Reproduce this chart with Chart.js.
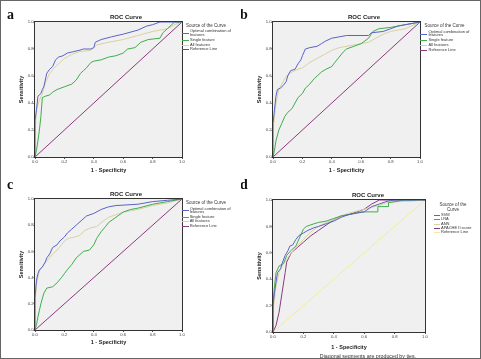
<!DOCTYPE html>
<html>
<head>
<meta charset="utf-8">
<script src="https://cdn.jsdelivr.net/npm/chart.js@4"></script>
<style>
  html, body { margin: 0; padding: 0; background: #fff; }
  #wrap { position: relative; width: 481px; height: 359px; box-sizing: border-box; border: 1px solid #666; overflow: hidden; }
  canvas { position: absolute; }
</style>
</head>
<body>
<div id="wrap">
  <canvas id="chartA" width="240" height="175" style="left:0;top:0"></canvas>
  <canvas id="chartB" width="241" height="175" style="left:240px;top:0"></canvas>
  <canvas id="chartC" width="240" height="184" style="left:0;top:175px"></canvas>
  <canvas id="chartD" width="241" height="184" style="left:240px;top:175px"></canvas>
</div>
<script>
// axis ticks
const tickValues = [0, 0.2, 0.4, 0.6, 0.8, 1.0];

// legend labels
const featureLabels = ["Optimal combination of features", "Single feature", "All features", "Reference Line"];
const modelLabels = ["SVM", "LRA", "ANN", "APACHE II score", "Reference Line"];

// reference diagonal
const refFpr = [0, 1];
const refTpr = [0, 1];

// panel a
const aOptimalFpr = [0, 0, 0.01, 0.02, 0.04, 0.05, 0.06, 0.07, 0.08, 0.1, 0.12, 0.14, 0.16, 0.19, 0.22, 0.26, 0.3, 0.33, 0.38, 0.4, 0.41, 0.45, 0.52, 0.6, 0.7, 0.76, 0.8, 0.85, 1];
const aOptimalTpr = [0, 0.27, 0.35, 0.45, 0.47, 0.5, 0.52, 0.57, 0.62, 0.65, 0.67, 0.72, 0.74, 0.75, 0.77, 0.78, 0.79, 0.8, 0.8, 0.81, 0.85, 0.87, 0.89, 0.91, 0.94, 0.97, 0.98, 1, 1];
const aSingleFpr = [0, 0.01, 0.02, 0.03, 0.04, 0.045, 0.05, 0.07, 0.1, 0.12, 0.15, 0.2, 0.25, 0.28, 0.31, 0.33, 0.35, 0.38, 0.4, 0.45, 0.5, 0.55, 0.6, 0.63, 0.68, 0.72, 0.77, 0.85, 0.87, 0.9, 0.93, 0.95, 1];
const aSingleTpr = [0, 0.05, 0.12, 0.2, 0.3, 0.37, 0.44, 0.45, 0.46, 0.48, 0.5, 0.52, 0.54, 0.57, 0.62, 0.64, 0.66, 0.7, 0.71, 0.72, 0.74, 0.75, 0.77, 0.8, 0.81, 0.85, 0.87, 0.88, 0.92, 0.95, 0.98, 1, 1];
const aAllFpr = [0, 0, 0.01, 0.03, 0.05, 0.07, 0.1, 0.13, 0.17, 0.2, 0.25, 0.3, 0.38, 0.42, 0.5, 0.6, 0.7, 0.8, 0.9, 0.95, 1];
const aAllTpr = [0, 0.2, 0.35, 0.42, 0.47, 0.55, 0.62, 0.66, 0.7, 0.73, 0.76, 0.78, 0.79, 0.83, 0.85, 0.87, 0.9, 0.93, 0.95, 0.98, 1];

// panel b
const bOptimalFpr = [0, 0, 0.01, 0.02, 0.03, 0.05, 0.07, 0.09, 0.1, 0.12, 0.15, 0.17, 0.19, 0.2, 0.22, 0.25, 0.3, 0.33, 0.36, 0.4, 0.45, 0.5, 0.65, 0.67, 0.75, 0.8, 0.85, 0.95, 1];
const bOptimalTpr = [0, 0.25, 0.35, 0.45, 0.5, 0.51, 0.53, 0.56, 0.6, 0.64, 0.65, 0.69, 0.72, 0.75, 0.8, 0.81, 0.82, 0.84, 0.86, 0.88, 0.89, 0.9, 0.9, 0.92, 0.93, 0.95, 0.97, 0.99, 1];
const bSingleFpr = [0, 0.01, 0.02, 0.04, 0.06, 0.08, 0.1, 0.13, 0.15, 0.17, 0.2, 0.22, 0.25, 0.28, 0.3, 0.33, 0.36, 0.4, 0.42, 0.45, 0.48, 0.5, 0.55, 0.6, 0.65, 0.68, 0.72, 0.8, 0.9, 0.95, 1];
const bSingleTpr = [0, 0.05, 0.12, 0.2, 0.25, 0.3, 0.33, 0.36, 0.4, 0.44, 0.47, 0.51, 0.54, 0.58, 0.6, 0.63, 0.65, 0.67, 0.7, 0.74, 0.78, 0.8, 0.82, 0.84, 0.88, 0.93, 0.95, 0.96, 0.98, 0.99, 1];
const bAllFpr = [0, 0, 0.02, 0.04, 0.06, 0.08, 0.1, 0.13, 0.17, 0.2, 0.25, 0.3, 0.35, 0.4, 0.45, 0.55, 0.65, 0.7, 0.75, 0.8, 0.9, 1];
const bAllTpr = [0, 0.2, 0.4, 0.5, 0.54, 0.58, 0.61, 0.63, 0.65, 0.66, 0.7, 0.73, 0.76, 0.79, 0.81, 0.83, 0.85, 0.88, 0.91, 0.93, 0.95, 1];

// panel c
const cOptimalFpr = [0, 0, 0.01, 0.02, 0.03, 0.05, 0.07, 0.08, 0.1, 0.12, 0.15, 0.17, 0.2, 0.22, 0.25, 0.28, 0.32, 0.35, 0.4, 0.45, 0.5, 0.55, 0.7, 0.8, 0.9, 1];
const cOptimalTpr = [0, 0.25, 0.38, 0.43, 0.46, 0.48, 0.52, 0.55, 0.58, 0.63, 0.65, 0.68, 0.71, 0.74, 0.77, 0.8, 0.84, 0.87, 0.89, 0.92, 0.94, 0.95, 0.96, 0.98, 0.99, 1];
const cSingleFpr = [0, 0.01, 0.02, 0.03, 0.04, 0.06, 0.08, 0.12, 0.15, 0.18, 0.2, 0.22, 0.25, 0.28, 0.3, 0.33, 0.37, 0.4, 0.42, 0.45, 0.48, 0.5, 0.55, 0.6, 0.65, 0.7, 0.8, 0.9, 1];
const cSingleTpr = [0, 0.04, 0.1, 0.15, 0.2, 0.28, 0.32, 0.33, 0.36, 0.4, 0.43, 0.46, 0.5, 0.55, 0.57, 0.6, 0.61, 0.65, 0.7, 0.75, 0.79, 0.82, 0.86, 0.9, 0.92, 0.93, 0.96, 0.98, 1];
const cAllFpr = [0, 0, 0.01, 0.03, 0.06, 0.09, 0.12, 0.15, 0.18, 0.2, 0.23, 0.27, 0.3, 0.34, 0.38, 0.42, 0.45, 0.5, 0.55, 0.6, 0.7, 0.8, 0.9, 1];
const cAllTpr = [0, 0.2, 0.35, 0.45, 0.5, 0.54, 0.58, 0.61, 0.65, 0.68, 0.7, 0.71, 0.72, 0.76, 0.78, 0.79, 0.82, 0.86, 0.88, 0.9, 0.92, 0.95, 0.97, 1];

// panel d
const dSvmFpr = [0, 0, 0.01, 0.02, 0.03, 0.05, 0.06, 0.08, 0.1, 0.11, 0.13, 0.15, 0.17, 0.2, 0.23, 0.27, 0.3, 0.35, 0.4, 0.45, 0.5, 0.55, 0.6, 0.65, 0.7, 0.75, 0.8, 1];
const dSvmTpr = [0, 0.2, 0.3, 0.38, 0.45, 0.48, 0.52, 0.58, 0.62, 0.65, 0.66, 0.7, 0.73, 0.75, 0.77, 0.79, 0.8, 0.82, 0.84, 0.87, 0.89, 0.9, 0.91, 0.95, 0.97, 0.99, 1, 1];
const dLraFpr = [0, 0, 0.01, 0.02, 0.04, 0.07, 0.09, 0.12, 0.15, 0.2, 0.22, 0.27, 0.3, 0.35, 0.4, 0.45, 0.5, 0.58, 0.69, 0.69, 0.76, 0.76, 0.87, 1];
const dLraTpr = [0, 0.22, 0.35, 0.45, 0.5, 0.52, 0.58, 0.62, 0.65, 0.78, 0.8, 0.82, 0.83, 0.84, 0.86, 0.88, 0.89, 0.91, 0.91, 0.95, 0.95, 0.98, 1, 1];
const dAnnFpr = [0, 0, 0.02, 0.04, 0.06, 0.09, 0.12, 0.15, 0.2, 0.25, 0.3, 0.35, 0.4, 0.45, 0.5, 0.6, 0.7, 0.75, 0.85, 0.9, 1];
const dAnnTpr = [0, 0.15, 0.35, 0.45, 0.5, 0.55, 0.6, 0.64, 0.7, 0.76, 0.8, 0.83, 0.85, 0.88, 0.9, 0.93, 0.96, 0.98, 0.99, 0.99, 1];
const dApacheFpr = [0, 0.02, 0.04, 0.06, 0.08, 0.09, 0.12, 0.16, 0.2, 0.25, 0.3, 0.35, 0.4, 0.45, 0.5, 0.55, 0.6, 0.65, 0.7, 1];
const dApacheTpr = [0, 0.05, 0.15, 0.3, 0.45, 0.53, 0.6, 0.64, 0.68, 0.73, 0.77, 0.81, 0.85, 0.88, 0.89, 0.91, 0.93, 0.97, 1, 1];

const BLUE = "#5a63c6";
const GREEN = "#3fae4c";
const TAN = "#d9d2a2";
const PURPLE = "#8c3a7e";
const YELLOW = "#eeee9a";

function toPoints(xs, ys) {
  return xs.map((x, i) => ({ x: x, y: ys[i] }));
}

function curve(label, xs, ys, color) {
  return {
    label: label,
    data: toPoints(xs, ys),
    borderColor: color,
    backgroundColor: color,
    borderWidth: 1,
    showLine: true,
    pointRadius: 0,
    fill: false,
    tension: 0
  };
}

// draws plot background, frame, panel letter, title, legend and notes
const panelDecor = {
  id: "panelDecor",
  beforeDatasetsDraw(chart) {
    const { ctx, chartArea: a } = chart;
    ctx.save();
    ctx.fillStyle = "#f0f0f0";
    ctx.fillRect(a.left, a.top, a.right - a.left, a.bottom - a.top);
    ctx.restore();
  },
  afterDraw(chart, args, o) {
    const { ctx, chartArea: a } = chart;
    ctx.save();
    ctx.strokeStyle = "#333";
    ctx.lineWidth = 1;
    ctx.strokeRect(Math.round(a.left) - 0.5, Math.round(a.top) - 0.5, Math.round(a.right - a.left) + 1, Math.round(a.bottom - a.top) + 1);

    ctx.fillStyle = "#111";
    ctx.textBaseline = "alphabetic";
    ctx.textAlign = "left";
    ctx.font = "bold 14px 'Liberation Serif'";
    ctx.fillText(o.letter, o.letterX, o.letterY);

    ctx.textAlign = "center";
    ctx.textBaseline = "middle";
    ctx.font = "bold 6px 'Liberation Sans'";
    ctx.fillStyle = "#222";
    ctx.fillText("ROC Curve", o.titleX, o.titleY);

    // legend header
    ctx.font = "4.5px 'Liberation Sans'";
    ctx.fillStyle = "#333";
    ctx.textAlign = o.headAlign;
    o.head.forEach((t, i) => ctx.fillText(t, o.headX, o.headY + i * 4.3));

    // legend items
    ctx.font = "4px 'Liberation Sans'";
    ctx.textAlign = "left";
    chart.data.datasets.forEach((ds, i) => {
      const y = o.itemY[i];
      const lines = wrap(ctx, ds.label, o.wrapWidth);
      const top = y - (lines.length - 1) * 1.6;
      lines.forEach((t, j) => ctx.fillText(t, o.textX, top + j * 3.2));
      ctx.strokeStyle = ds.borderColor;
      ctx.beginPath();
      ctx.moveTo(o.lineX0, Math.round(y) + 0.5);
      ctx.lineTo(o.lineX1, Math.round(y) + 0.5);
      ctx.stroke();
    });

    if (o.note) {
      ctx.textAlign = "center";
      ctx.font = "5.3px 'Liberation Sans'";
      ctx.fillStyle = "#333";
      ctx.fillText(o.note, o.noteX, o.noteY);
    }
    ctx.restore();
  }
};

function wrap(ctx, text, maxW) {
  const words = text.split(" ");
  const lines = [];
  let cur = "";
  words.forEach(w => {
    const t = cur ? cur + " " + w : w;
    if (ctx.measureText(t).width > maxW && cur) {
      lines.push(cur);
      cur = w;
    } else {
      cur = t;
    }
  });
  lines.push(cur);
  return lines;
}

function makeChart(id, datasets, cfg) {
  const canvas = document.getElementById(id);
  return new Chart(canvas, {
    type: "scatter",
    data: { datasets: datasets },
    plugins: [panelDecor],
    options: {
      responsive: false,
      animation: false,
      layout: { padding: { top: cfg.top, right: canvas.width - cfg.right, left: 0, bottom: 0 } },
      plugins: {
        legend: { display: false },
        tooltip: { enabled: false },
        panelDecor: cfg
      },
      scales: {
        x: {
          type: "linear",
          min: 0,
          max: 1,
          afterBuildTicks: s => { s.ticks = tickValues.map(v => ({ value: v })); },
          afterFit: s => { s.height = canvas.height - cfg.bottom; },
          ticks: { callback: v => v.toFixed(1), font: { size: 4.2, family: "Liberation Sans" }, color: "#444", padding: 0, maxRotation: 0, autoSkip: false },
          grid: { drawOnChartArea: false, tickLength: 2, color: "#555" },
          border: { color: "#333" },
          title: { display: true, text: "1 - Specificity", font: { size: 5.5, weight: "bold", family: "Liberation Sans" }, color: "#222", padding: { top: 0, bottom: cfg.xTitlePad } }
        },
        y: {
          type: "linear",
          min: 0,
          max: 1,
          afterBuildTicks: s => { s.ticks = tickValues.map(v => ({ value: v })); },
          afterFit: s => { s.width = cfg.left; },
          ticks: { callback: v => v.toFixed(1), font: { size: 4.2, family: "Liberation Sans" }, color: "#444", padding: 0 },
          grid: { drawOnChartArea: false, tickLength: 1.5, color: "#555" },
          border: { color: "#333" },
          title: { display: true, text: "Sensitivity", font: { size: 5.5, weight: "bold", family: "Liberation Sans" }, color: "#222", padding: { top: cfg.yTitlePad, bottom: 0 } }
        }
      }
    }
  });
}

function featureSets(optX, optY, sinX, sinY, allX, allY) {
  return [
    curve(featureLabels[0], optX, optY, BLUE),
    curve(featureLabels[1], sinX, sinY, GREEN),
    curve(featureLabels[2], allX, allY, TAN),
    curve(featureLabels[3], refFpr, refTpr, PURPLE)
  ];
}

makeChart("chartA", featureSets(aOptimalFpr, aOptimalTpr, aSingleFpr, aSingleTpr, aAllFpr, aAllTpr), {
  left: 34, top: 21, right: 181, bottom: 156, xTitlePad: 2, yTitlePad: 17.5,
  letter: "a", letterX: 6, letterY: 18,
  titleX: 125, titleY: 16,
  head: ["Source of the Curve"], headX: 185, headY: 24.7, headAlign: "left",
  itemY: [31.8, 39.3, 44, 48.3], lineX0: 181, lineX1: 188, textX: 189, wrapWidth: 42
});

makeChart("chartB", featureSets(bOptimalFpr, bOptimalTpr, bSingleFpr, bSingleTpr, bAllFpr, bAllTpr), {
  left: 32, top: 21, right: 179, bottom: 156, xTitlePad: 2, yTitlePad: 15.5,
  letter: "b", letterX: -1, letterY: 18,
  titleX: 123, titleY: 16,
  head: ["Source of the Curve"], headX: 183.5, headY: 24.5, headAlign: "left",
  itemY: [32.5, 39.3, 44, 48.7], lineX0: 179, lineX1: 186, textX: 187.5, wrapWidth: 42
});

makeChart("chartC", featureSets(cOptimalFpr, cOptimalTpr, cSingleFpr, cSingleTpr, cAllFpr, cAllTpr), {
  left: 34, top: 23, right: 181, bottom: 154, xTitlePad: 14.5, yTitlePad: 17.5,
  letter: "c", letterX: 6, letterY: 13,
  titleX: 125, titleY: 18,
  head: ["Source of the Curve"], headX: 185, headY: 26.7, headAlign: "left",
  itemY: [34.3, 41.3, 45.3, 50], lineX0: 181, lineX1: 188, textX: 188.7, wrapWidth: 42
});

makeChart("chartD", [
  curve(modelLabels[0], dSvmFpr, dSvmTpr, BLUE),
  curve(modelLabels[1], dLraFpr, dLraTpr, GREEN),
  curve(modelLabels[2], dAnnFpr, dAnnTpr, TAN),
  curve(modelLabels[3], dApacheFpr, dApacheTpr, PURPLE),
  curve(modelLabels[4], refFpr, refTpr, YELLOW)
], {
  left: 32, top: 24, right: 184, bottom: 156, xTitlePad: 9.5, yTitlePad: 15.5,
  letter: "d", letterX: -1, letterY: 13,
  titleX: 127, titleY: 19,
  head: ["Source of the", "Curve"], headX: 212, headY: 29, headAlign: "center",
  itemY: [39, 43.3, 47.5, 52, 56.3], lineX0: 193, lineX1: 199, textX: 200, wrapWidth: 60,
  note: "Diagonal segments are produced by ties.", noteX: 127, noteY: 181
});
</script>
</body>
</html>
